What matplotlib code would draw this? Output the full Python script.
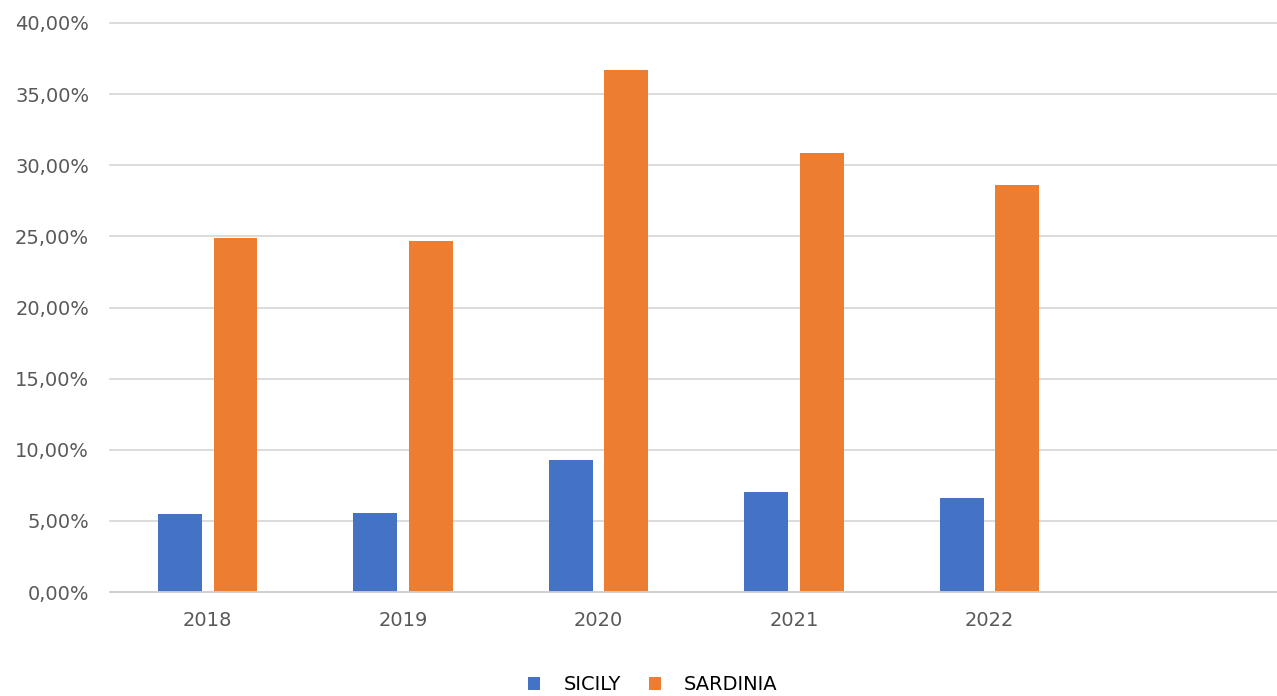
import matplotlib.pyplot as plt
from matplotlib.ticker import FuncFormatter, MultipleLocator
import numpy as np

# quota per anno, Sicilia e Sardegna
anni = ["2018", "2019", "2020", "2021", "2022"]
sicilia = [0.0546, 0.0556, 0.0925, 0.0700, 0.0663]
sardegna = [0.2490, 0.2468, 0.3670, 0.3085, 0.2860]

blu = "#4472C4"
arancio = "#ED7D31"

fig = plt.figure(figsize=(12.77, 6.96), dpi=100)
ax = fig.add_axes([110 / 1277, 104 / 696, 1 - 110 / 1277, 569 / 696])

x = np.arange(len(anni))
larg = 0.225
ax.bar(x - 0.142, sicilia, larg, color=blu, label="SICILY", zorder=3)
ax.bar(x + 0.142, sardegna, larg, color=arancio, label="SARDINIA", zorder=3)

ax.set_xlim(-0.5, 5.47)
ax.set_ylim(0, 0.40)
ax.yaxis.set_major_locator(MultipleLocator(0.05))
ax.yaxis.set_major_formatter(FuncFormatter(lambda v, p: f"{v * 100:.2f}%".replace(".", ",")))
ax.set_xticks(x)
ax.set_xticklabels(anni)

ax.grid(axis="y", color="#d9d9d9", linewidth=1.3, zorder=0)
for g in ax.get_ygridlines():
    g.set_clip_on(False)
for s in ["top", "right", "left"]:
    ax.spines[s].set_visible(False)
ax.spines["bottom"].set_color("#d0d0d0")
ax.spines["bottom"].set_linewidth(1.3)
ax.spines["bottom"].set_zorder(4)
ax.tick_params(axis="both", length=0, labelsize=14, labelcolor="#595959")
ax.tick_params(axis="y", pad=15)
ax.tick_params(axis="x", pad=14)

fig.legend(loc="center", bbox_to_anchor=(653 / 1277, 11 / 696), ncol=2, frameon=False,
           fontsize=14, handlelength=0.6, handleheight=0.6, columnspacing=1.45, handletextpad=1.2)

fig.savefig("out.png", dpi=100)
